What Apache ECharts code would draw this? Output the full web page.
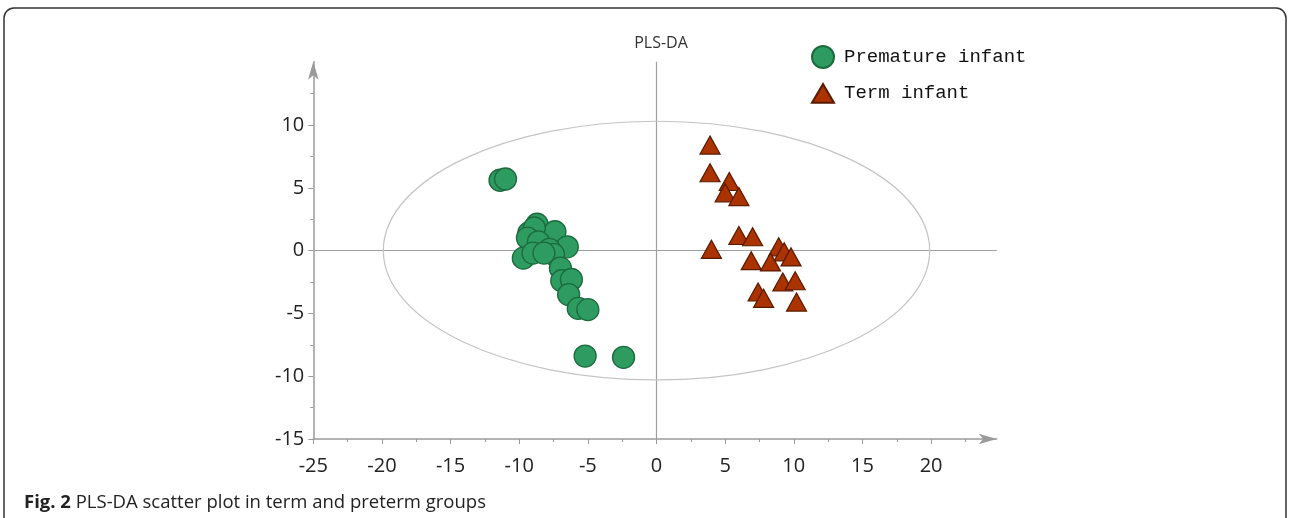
<!DOCTYPE html>
<html>
<head>
<meta charset="utf-8">
<script src="https://cdn.jsdelivr.net/npm/echarts@6/dist/echarts.min.js"></script>
<style>
  html, body { margin: 0; padding: 0; background: #fff; }
  #chart { width: 1290px; height: 518px; }
</style>
</head>
<body>
<div id="chart"></div>
<script>
// PLS-DA score plot: component 1 (x) vs component 2 (y)
const seriesNames = ['Premature infant', 'Term infant'];

const prematureScores = [
  [-11.4, 5.6], [-11.0, 5.7],
  [-8.7, 2.1], [-9.3, 1.4], [-7.4, 1.5], [-8.9, 1.8],
  [-9.4, 1.0], [-8.6, 0.7], [-6.5, 0.3], [-7.8, 0.1],
  [-9.7, -0.6], [-9.0, -0.2], [-7.5, -0.3], [-8.2, -0.2],
  [-7.0, -1.4], [-6.9, -2.4], [-6.2, -2.3], [-6.4, -3.5],
  [-5.7, -4.6], [-5.0, -4.7],
  [-5.2, -8.4], [-2.4, -8.5]
];

const termScores = [
  [3.9, 8.4], [3.9, 6.2], [5.3, 5.5], [5.0, 4.6], [6.0, 4.3],
  [6.0, 1.2], [7.0, 1.1], [4.0, 0.1],
  [8.9, 0.3], [9.3, -0.1], [9.8, -0.5], [6.9, -0.8], [8.3, -0.9],
  [9.2, -2.5], [10.1, -2.4],
  [7.4, -3.3], [7.8, -3.8], [10.2, -4.1]
];

// 95% confidence ellipse: centre x, centre y, semi-axis x, semi-axis y
const confidenceEllipse = [0, 0, 19.9, 10.3];

const xTicks = [-25, -20, -15, -10, -5, 0, 5, 10, 15, 20];
const xMinorTicks = [-22.5, -17.5, -12.5, -7.5, -2.5, 2.5, 7.5, 12.5, 17.5, 22.5];
const yTicks = [-15, -10, -5, 0, 5, 10];
const yMinorTicks = [-12.5, -7.5, -2.5, 2.5, 7.5, 12.5];

// axis extents run out to the arrow tips
const xRange = [-25, 24.78];
const yRange = [-15, 15.04];

const axisGray = '#9a9a9a';
const labelFont = "'Open Sans', 'DejaVu Sans', sans-serif";

const chart = echarts.init(document.getElementById('chart'), null, { renderer: 'canvas' });

const hideOffTick = v => (Math.abs(v - Math.round(v / 5) * 5) < 1e-6 ? String(v) : '');

chart.setOption({
  animation: false,
  backgroundColor: '#ffffff',
  title: {
    text: 'PLS-DA',
    left: 656,
    top: 30,
    textAlign: 'center',
    textStyle: { fontFamily: labelFont, fontSize: 16, fontWeight: 'normal', color: '#333' }
  },
  legend: {
    orient: 'vertical',
    left: 811,
    top: 45,
    padding: 0,
    itemWidth: 22,
    itemHeight: 22,
    itemGap: 14,
    data: [
      { name: seriesNames[0], icon: 'circle' },
      { name: seriesNames[1], icon: 'path://M10,0L20,17L0,17Z' }
    ],
    textStyle: {
      fontFamily: "'Liberation Mono', 'DejaVu Sans Mono', monospace",
      fontSize: 19,
      color: '#111',
      padding: [0, 0, 0, 5]
    }
  },
  grid: { left: 313.3, right: 293.3, top: 61.7, bottom: 79, containLabel: false },
  xAxis: [
    {
      type: 'value', position: 'bottom', min: xRange[0], max: xRange[1], interval: 5,
      splitLine: { show: false },
      axisLine: { show: true, onZero: false, symbol: ['none', 'arrow'], symbolSize: [8, 18],
        lineStyle: { color: axisGray, width: 1.5 } },
      axisTick: { show: true, length: 5, customValues: xTicks, lineStyle: { color: axisGray } },
      axisLabel: { customValues: xTicks, formatter: hideOffTick, margin: 17,
        fontFamily: labelFont, fontSize: 20, color: '#222' }
    },
    {
      type: 'value', position: 'bottom', min: xRange[0], max: xRange[1], interval: 5,
      splitLine: { show: false },
      axisLine: { show: false, onZero: false },
      axisTick: { show: true, length: 3, customValues: xMinorTicks, lineStyle: { color: axisGray } },
      axisLabel: { show: false }
    }
  ],
  yAxis: [
    {
      type: 'value', position: 'left', min: yRange[0], max: yRange[1], interval: 5,
      splitLine: { show: false },
      axisLine: { show: true, onZero: false, symbol: ['none', 'arrow'], symbolSize: [8, 18],
        lineStyle: { color: axisGray, width: 1.5 } },
      axisTick: { show: true, length: 5, customValues: yTicks, lineStyle: { color: axisGray } },
      axisLabel: { customValues: yTicks, formatter: hideOffTick, margin: 9,
        fontFamily: labelFont, fontSize: 20, color: '#222' }
    },
    {
      type: 'value', position: 'left', min: yRange[0], max: yRange[1], interval: 5,
      splitLine: { show: false },
      axisLine: { show: false, onZero: false },
      axisTick: { show: true, length: 3, customValues: yMinorTicks, lineStyle: { color: axisGray } },
      axisLabel: { show: false }
    }
  ],
  series: [
    {
      name: 'ellipse',
      type: 'custom',
      xAxisIndex: 0,
      yAxisIndex: 0,
      silent: true,
      clip: false,
      z: 1,
      data: [confidenceEllipse],
      renderItem: function (params, api) {
        const c = api.coord([api.value(0), api.value(1)]);
        const s = api.size([api.value(2), api.value(3)], [api.value(0), api.value(1)]);
        return {
          type: 'ellipse',
          shape: { cx: c[0], cy: c[1], rx: s[0], ry: s[1] },
          style: { fill: 'none', stroke: '#c4c4c4', lineWidth: 1.2 }
        };
      },
      markLine: {
        silent: true,
        symbol: 'none',
        z: 1,
        label: { show: false },
        lineStyle: { color: '#a0a0a0', type: 'solid', width: 1.2 },
        data: [{ xAxis: 0 }, { yAxis: 0 }]
      }
    },
    {
      name: seriesNames[0],
      type: 'scatter',
      xAxisIndex: 0,
      yAxisIndex: 0,
      symbol: 'circle',
      symbolSize: 22,
      z: 3,
      itemStyle: { color: '#2e9c60', borderColor: '#1c6a3e', borderWidth: 1.3, opacity: 1 },
      data: prematureScores
    },
    {
      name: seriesNames[1],
      type: 'scatter',
      xAxisIndex: 0,
      yAxisIndex: 0,
      symbol: 'triangle',
      symbolSize: [20, 18],
      z: 3,
      itemStyle: { color: '#aa3300', borderColor: '#5a1a00', borderWidth: 1.2, opacity: 1 },
      data: termScores
    }
  ],
  graphic: [
    {
      type: 'rect',
      silent: true,
      shape: { x: 4, y: 8, width: 1282, height: 560, r: 10 },
      style: { fill: 'none', stroke: '#333', lineWidth: 1.5 }
    },
    {
      type: 'text',
      left: 24,
      top: 493,
      style: {
        text: '{b|Fig. 2} PLS-DA scatter plot in term and preterm groups',
        fontFamily: labelFont,
        fontSize: 18.5,
        fill: '#222',
        rich: {
          b: { fontFamily: labelFont, fontSize: 18.5, fontWeight: 'bold', fill: '#222' }
        }
      }
    }
  ]
});
</script>
</body>
</html>
